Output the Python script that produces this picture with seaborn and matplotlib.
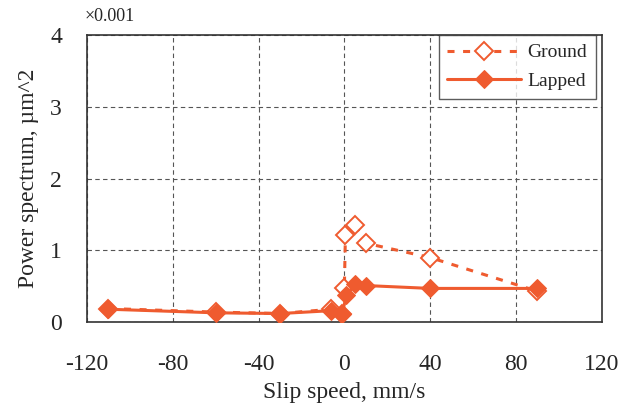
import matplotlib
matplotlib.use("Agg")
import matplotlib.pyplot as plt
import seaborn as sns
import pandas as pd

# Slip speed (mm/s) and power spectrum (x0.001 um^2) per surface finish
ground_speed = [-110, -60, -30, -6, -1, 0, 0.5, 5, 10, 40, 90]
ground_power = [0.19, 0.14, 0.12, 0.18, 0.12, 0.47, 1.21, 1.35, 1.10, 0.90, 0.43]
lapped_speed = [-110, -60, -30, -6, -1, 1, 5, 10, 40, 90]
lapped_power = [0.18, 0.13, 0.12, 0.16, 0.12, 0.38, 0.53, 0.51, 0.47, 0.47]

x_ticks = [-120, -80, -40, 0, 40, 80, 120]
y_ticks = [0, 1, 2, 3, 4]

sns.set_theme(style="white")
plt.rcParams["font.family"] = ["Liberation Serif", "DejaVu Serif"]

color = "#EF5B2F"

df = pd.concat([
    pd.DataFrame({"speed": ground_speed, "power": ground_power, "finish": "Ground"}),
    pd.DataFrame({"speed": lapped_speed, "power": lapped_power, "finish": "Lapped"}),
], ignore_index=True)

fig = plt.figure(figsize=(6.21, 4.13), dpi=100)
ax = fig.add_axes([0.140, 0.220, 0.829, 0.695])

g = df[df.finish == "Ground"]
l = df[df.finish == "Lapped"]
sns.lineplot(data=g, x="speed", y="power", ax=ax, sort=False, color=color,
             linestyle=(0, (2.3, 2.8)), linewidth=2.2, marker="D", markersize=9.5,
             markerfacecolor="white", markeredgecolor=color, markeredgewidth=1.4,
             label="Ground", zorder=3)
sns.lineplot(data=l, x="speed", y="power", ax=ax, sort=False, color=color,
             linestyle="-", linewidth=2.2, marker="D", markersize=9.5,
             markerfacecolor=color, markeredgecolor=color,
             label="Lapped", zorder=4)

ax.set_xlim(-120, 120)
ax.set_ylim(0, 4)
ax.set_xticks(x_ticks)
ax.set_yticks(y_ticks)
ax.set_xticklabels([str(t) for t in x_ticks], fontsize=17)
ax.set_yticklabels([str(t) for t in y_ticks], fontsize=17)
ax.tick_params(axis="x", length=0, pad=23)
ax.tick_params(axis="y", length=0, pad=18)
ax.grid(True, color="#555555", linestyle=(0, (4, 3)), linewidth=0.8)
for s in ax.spines.values():
    s.set_visible(True)
    s.set_color("#333333")
    s.set_linewidth(1.2)

ax.set_xlabel("Slip speed, mm/s", fontsize=17, labelpad=5)
ax.set_ylabel("Power spectrum, \u00b5m^2", fontsize=17, labelpad=8)
ax.text(-0.005, 1.035, "\u00d70.001", transform=ax.transAxes, fontsize=13,
        ha="left", va="bottom")

leg = ax.legend(loc="upper right", bbox_to_anchor=(0.988, 1.0), fontsize=14,
                frameon=True, fancybox=False, edgecolor="#333333",
                borderpad=0.45, handlelength=3.8, handletextpad=0.3,
                borderaxespad=0.0, labelspacing=0.55)
leg.get_frame().set_linewidth(1.0)

fig.savefig("out.png", dpi=100)
